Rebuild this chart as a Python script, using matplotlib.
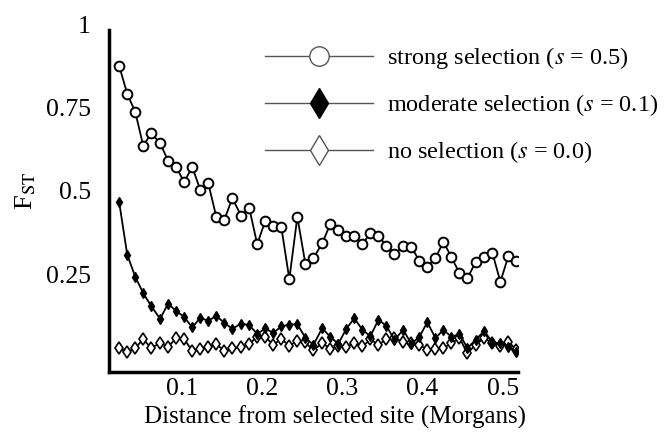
import numpy as np
import matplotlib.pyplot as plt
from matplotlib.lines import Line2D

plt.rcParams['font.family'] = 'Liberation Serif'
plt.rcParams['mathtext.fontset'] = 'stix'

# distance from the selected site (Morgans)
distance = [0.022, 0.032, 0.042, 0.052, 0.062, 0.073, 0.083, 0.093, 0.103, 0.113,
            0.123, 0.133, 0.143, 0.153, 0.163, 0.174, 0.184, 0.194, 0.204, 0.214,
            0.224, 0.234, 0.244, 0.254, 0.264, 0.275, 0.285, 0.295, 0.305, 0.315,
            0.325, 0.335, 0.345, 0.355, 0.365, 0.376, 0.386, 0.396, 0.406, 0.416,
            0.426, 0.436, 0.446, 0.456, 0.466, 0.477, 0.487, 0.497, 0.507, 0.517]

# F_ST, s = 0.5
strong = [0.875, 0.791, 0.737, 0.635, 0.673, 0.643, 0.590, 0.572, 0.526, 0.572,
          0.503, 0.523, 0.422, 0.413, 0.478, 0.425, 0.449, 0.340, 0.410, 0.395,
          0.392, 0.235, 0.422, 0.281, 0.298, 0.343, 0.400, 0.383, 0.365, 0.365,
          0.340, 0.373, 0.365, 0.335, 0.310, 0.335, 0.332, 0.290, 0.272, 0.298,
          0.347, 0.301, 0.253, 0.238, 0.286, 0.302, 0.314, 0.227, 0.305, 0.290]

# F_ST, s = 0.1
moderate = [0.466, 0.309, 0.242, 0.193, 0.154, 0.116, 0.162, 0.139, 0.122, 0.090,
            0.119, 0.110, 0.125, 0.104, 0.086, 0.102, 0.097, 0.071, 0.087, 0.074,
            0.093, 0.099, 0.100, 0.059, 0.038, 0.088, 0.062, 0.041, 0.086, 0.118,
            0.083, 0.064, 0.113, 0.095, 0.053, 0.083, 0.041, 0.062, 0.106, 0.058,
            0.083, 0.062, 0.070, 0.028, 0.053, 0.080, 0.044, 0.043, 0.032, 0.017]

# F_ST, s = 0.0
neutral = [0.028, 0.017, 0.028, 0.055, 0.028, 0.044, 0.032, 0.058, 0.055, 0.020,
           0.025, 0.031, 0.040, 0.020, 0.027, 0.030, 0.041, 0.062, 0.062, 0.038,
           0.056, 0.035, 0.050, 0.045, 0.021, 0.044, 0.026, 0.035, 0.032, 0.043,
           0.033, 0.054, 0.038, 0.055, 0.058, 0.047, 0.043, 0.038, 0.023, 0.026,
           0.028, 0.043, 0.058, 0.013, 0.038, 0.058, 0.043, 0.035, 0.047, 0.023]

xticks = [0.1, 0.2, 0.3, 0.4, 0.5]
yticks = [0.25, 0.5, 0.75, 1.0]
ylabels = ['0.25', '0.5', '0.75', '1']

labels = ['strong selection ($s$ = 0.5)',
          'moderate selection ($s$ = 0.1)',
          'no selection ($s$ = 0.0)']

fig = plt.figure(figsize=(6.64, 4.36), dpi=100)
ax = fig.add_axes([0.1642, 0.1468, 0.616, 0.7977])

ax.plot(distance, strong, color='black', lw=1.3, marker='o', ms=7,
        mfc='white', mec='black', mew=1.4)
ax.plot(distance, neutral, color='black', lw=1.3, marker='d', ms=6.5,
        mfc='white', mec='black', mew=1.2)
ax.plot(distance, moderate, color='black', lw=1.3, marker='d', ms=5.5,
        mfc='black', mec='black')

ax.set_xlim(0.00935, 0.519)
ax.set_ylim(-0.0435, 1.0)

for side in ['top', 'right']:
    ax.spines[side].set_visible(False)
ax.spines['left'].set_linewidth(2.5)
ax.spines['bottom'].set_linewidth(2.5)
ax.spines['left'].set_bounds(-0.0435, 0.983)

ax.set_xticks(xticks)
ax.set_xticklabels([str(t) for t in xticks])
ax.set_yticks(yticks)
ax.set_yticklabels(ylabels)
ax.tick_params(axis='both', length=0, labelsize=18.5)
ax.tick_params(axis='x', pad=4)
ax.tick_params(axis='y', pad=13)

ax.set_xlabel('Distance from selected site (Morgans)', fontsize=18)
ax.xaxis.set_label_coords(0.553, -0.096)
ax.set_ylabel(r'F$_{\mathrm{ST}}$', fontsize=19, rotation=90)
ax.yaxis.set_label_coords(-0.173, 0.52)

# legend with large markers
handles = [
    Line2D([], [], color='#555555', lw=1, marker='o', ms=14, mfc='white', mec='#555555', mew=1),
    Line2D([], [], color='#555555', lw=1, marker='d', ms=15, mfc='black', mec='black', mew=1),
    Line2D([], [], color='#555555', lw=1, marker='d', ms=15, mfc='white', mec='#555555', mew=1),
]
ax.legend(handles, labels, loc='upper left', bbox_to_anchor=(0.381, 0.94),
          frameon=False, fontsize=17.5, handlelength=4.44, handletextpad=0.58,
          labelspacing=0.87, borderpad=0, borderaxespad=0)

plt.savefig('out.png', dpi=100)
